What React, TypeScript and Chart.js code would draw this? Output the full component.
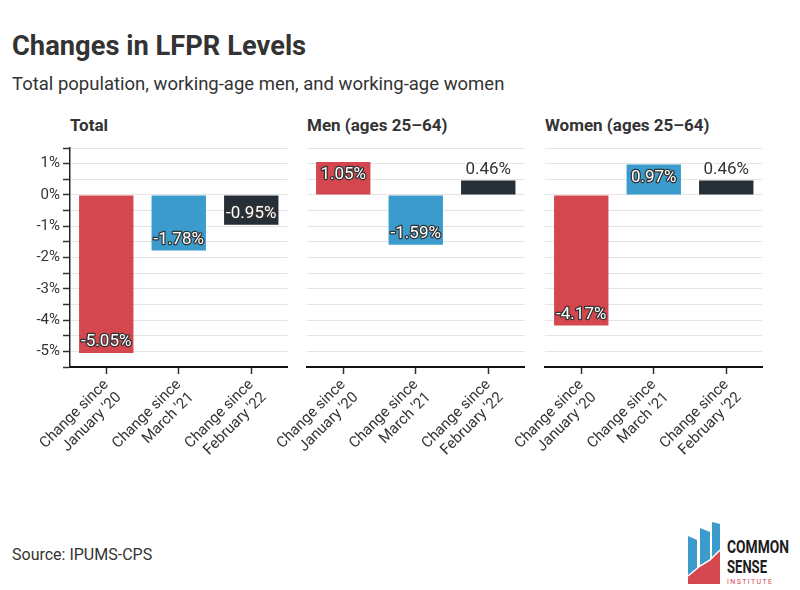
import { useEffect, useRef } from 'react'
import { Chart, registerables, Plugin } from 'chart.js'

Chart.register(...registerables)

const CATEGORIES = [
  ['Change since', "January '20"],
  ['Change since', "March '21"],
  ['Change since', "February '22"],
]
const TOTAL = [-5.05, -1.78, -0.95]
const MEN = [1.05, -1.59, 0.46]
const WOMEN = [-4.17, 0.97, 0.46]
const Y_MIN = -5.5
const Y_MAX = 1.5
const Y_STEP = 0.5

const BAR_COLORS = ['#d4474f', '#3a9bcc', '#262e37']
const FONT = 'Roboto, "Noto Sans", sans-serif'
const TEXT = '#333333'

const PANELS = [
  { title: 'Total', values: TOTAL, left: 0, axis: true },
  { title: 'Men (ages 25–64)', values: MEN, left: 237, axis: false },
  { title: 'Women (ages 25–64)', values: WOMEN, left: 475, axis: false },
]

const valueLabels: Plugin<'bar'> = {
  id: 'valueLabels',
  afterDatasetsDraw(chart) {
    const ctx = chart.ctx
    const meta = chart.getDatasetMeta(0)
    const data = chart.data.datasets[0].data as number[]
    ctx.save()
    ctx.font = `17px ${FONT}`
    ctx.textAlign = 'center'
    ctx.textBaseline = 'middle'
    ctx.lineJoin = 'round'
    meta.data.forEach((bar: any, i) => {
      const v = data[i]
      const text = `${v.toFixed(2)}%`
      const h = Math.abs(bar.base - bar.y)
      if (h < 22) {
        const y = bar.y - 11
        ctx.lineWidth = 3
        ctx.strokeStyle = '#ffffff'
        ctx.strokeText(text, bar.x, y)
        ctx.fillStyle = TEXT
        ctx.fillText(text, bar.x, y)
      } else {
        const y = v < 0 ? bar.y - 11 : bar.y + 13
        ctx.lineWidth = 2.5
        ctx.strokeStyle = '#333333'
        ctx.strokeText(text, bar.x, y)
        ctx.fillStyle = '#ffffff'
        ctx.fillText(text, bar.x, y)
      }
    })
    ctx.restore()
  },
}

function Panel({ values, axis }: { values: number[]; axis: boolean }) {
  const ref = useRef<HTMLCanvasElement>(null)
  const chart = useRef<Chart | null>(null)

  useEffect(() => {
    if (!ref.current) return
    chart.current?.destroy()
    chart.current = new Chart(ref.current, {
      type: 'bar',
      data: {
        labels: CATEGORIES,
        datasets: [
          {
            data: values,
            backgroundColor: BAR_COLORS,
            barPercentage: 0.75,
            categoryPercentage: 1,
          },
        ],
      },
      options: {
        responsive: true,
        maintainAspectRatio: false,
        animation: false,
        layout: { padding: { top: 10, right: 2.5, bottom: 0, left: 0 } },
        plugins: {
          legend: { display: false },
          tooltip: { enabled: false },
        },
        scales: {
          x: {
            grid: {
              display: true,
              drawOnChartArea: false,
              drawTicks: true,
              offset: false,
              tickLength: 7,
              tickColor: '#333',
              tickWidth: 1.5,
            },
            border: { display: true, color: '#111', width: 2 },
            ticks: {
              color: TEXT,
              font: { family: FONT, size: 15 },
              minRotation: 45,
              maxRotation: 45,
              padding: 2,
            },
            afterFit: (s: any) => {
              s.height = 100
              s.paddingLeft = 0
              s.paddingRight = 0
            },
          },
          y: {
            min: Y_MIN,
            max: Y_MAX,
            grid: {
              color: '#e4e4e4',
              lineWidth: 1,
              drawTicks: axis,
              tickLength: 7,
              tickColor: '#333',
              tickWidth: 1.5,
            },
            border: { display: axis, color: '#222', width: 1.5 },
            ticks: {
              display: axis,
              autoSkip: false,
              stepSize: Y_STEP,
              color: TEXT,
              font: { family: FONT, size: 15 },
              padding: 3,
              callback: (v: any) => (Number.isInteger(v) ? `${v}%` : ''),
            },
            afterFit: (s: any) => {
              s.width = 70
              s.paddingTop = 0
              s.paddingBottom = 0
            },
          },
        },
      },
      plugins: [valueLabels],
    })
    return () => chart.current?.destroy()
  }, [values, axis])

  return <canvas ref={ref} role="img" aria-label="Changes in LFPR levels" />
}

function Logo() {
  return (
    <svg
      width="110"
      height="70"
      viewBox="0 0 110 70"
      style={{ position: 'absolute', left: 684, top: 518 }}
    >
      <polygon points="4,18 13,22 13,66 4,66" fill="#3a9bcc" />
      <polygon points="16,10 26,14 26,66 16,66" fill="#3a9bcc" />
      <polygon points="28,4 36,6 36,66 28,66" fill="#3a9bcc" />
      <polygon points="4,58 16,48 26,42 36,32 36,66 4,66" fill="#d4474f" />
      <polyline points="4,58 16,48 26,42 36,32" stroke="#ffffff" strokeWidth="1.5" fill="none" />
      <text x="43" y="35" textLength="62" lengthAdjust="spacingAndGlyphs" fill="#1c1c1c"
        style={{ font: `bold 19px ${FONT}` }}>COMMON</text>
      <text x="43" y="55" textLength="40" lengthAdjust="spacingAndGlyphs" fill="#1c1c1c"
        style={{ font: `bold 19px ${FONT}` }}>SENSE</text>
      <text x="43" y="65.5" textLength="45" lengthAdjust="spacing" fill="#d4474f"
        style={{ font: `7px ${FONT}` }}>INSTITUTE</text>
    </svg>
  )
}

export default function App() {
  return (
    <div
      style={{
        position: 'fixed',
        left: 0,
        top: 0,
        width: 800,
        height: 590,
        background: '#fff',
        fontFamily: FONT,
        color: TEXT,
        overflow: 'hidden',
      }}
    >
      <div
        style={{
          position: 'absolute',
          left: 12,
          top: 28,
          fontSize: 28,
          fontWeight: 700,
          whiteSpace: 'nowrap',
          transform: 'scaleX(0.975)',
          transformOrigin: 'left',
          lineHeight: '36px',
        }}
      >
        Changes in LFPR Levels
      </div>
      <div
        style={{
          position: 'absolute',
          left: 12,
          top: 72,
          fontSize: 18.5,
          whiteSpace: 'nowrap',
          lineHeight: '24px',
        }}
      >
        Total population, working-age men, and working-age women
      </div>
      {PANELS.map((p) => (
        <div key={p.title}>
          <div
            style={{
              position: 'absolute',
              left: p.left + 70,
              top: 114,
              fontSize: 17,
              fontWeight: 700,
              whiteSpace: 'nowrap',
              lineHeight: '22px',
            }}
          >
            {p.title}
          </div>
          <div
            style={{
              position: 'absolute',
              left: p.left,
              top: 138,
              width: 290,
              height: 329,
            }}
          >
            <Panel values={p.values} axis={p.axis} />
          </div>
        </div>
      ))}
      <div
        style={{
          position: 'absolute',
          left: 12,
          top: 544,
          fontSize: 16,
          whiteSpace: 'nowrap',
          lineHeight: '22px',
        }}
      >
        Source: IPUMS-CPS
      </div>
      <Logo />
    </div>
  )
}
